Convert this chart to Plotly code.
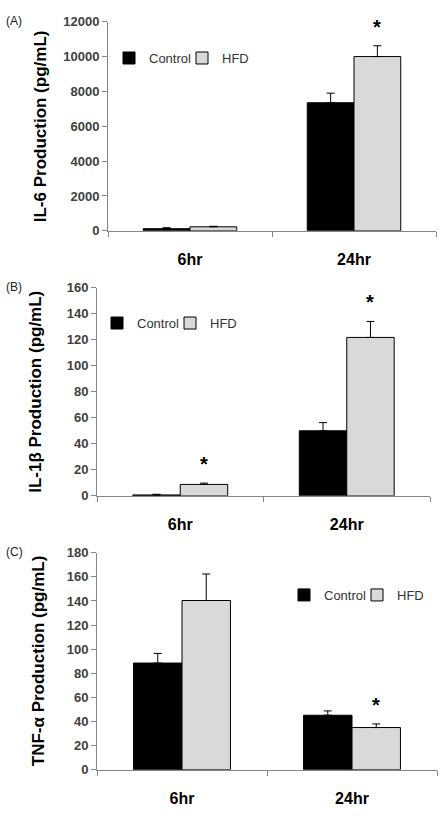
import plotly.graph_objects as go

categories = ["6hr", "24hr"]

il6_control = [120, 7350]
il6_control_err = [60, 550]
il6_hfd = [230, 10000]
il6_hfd_err = [30, 620]
il6_sig = [False, True]

il1b_control = [0.7, 50]
il1b_control_err = [0.5, 6.3]
il1b_hfd = [8.8, 121.8]
il1b_hfd_err = [1.0, 12.3]
il1b_sig = [True, True]

tnf_control = [88.5, 45.2]
tnf_control_err = [8, 3.6]
tnf_hfd = [140.4, 35.0]
tnf_hfd_err = [22, 3]
tnf_sig = [False, True]

panel_labels = ["(A)", "(B)", "(C)"]
y_titles = ["IL-6 Production (pg/mL)", "IL-1\u03b2 Production (pg/mL)", "TNF-\u03b1 Production (pg/mL)"]
y_ranges = [[0, 12000], [0, 160], [0, 180]]
y_dticks = [2000, 20, 20]

W, H = 443, 816
# plot areas in pixels: (x0, x1, ytop, ybottom)
areas = [(108, 436, 15, 228), (97, 430, 286, 498), (97, 437, 556, 777)]
legend_pos = [(109, 52), (97, 322), (284, 599)]
title_x = [40, 36, 38]

BARGAP = 0.43
AXIS_GRAY = "#868686"
TEXT_GRAY = "#404040"
FONT = "Liberation Sans"

panels = [
    (il6_control, il6_control_err, il6_hfd, il6_hfd_err, il6_sig),
    (il1b_control, il1b_control_err, il1b_hfd, il1b_hfd_err, il1b_sig),
    (tnf_control, tnf_control_err, tnf_hfd, tnf_hfd_err, tnf_sig),
]

fig = go.Figure()
layout = dict(
    width=W, height=H, margin=dict(l=0, r=0, t=0, b=0),
    paper_bgcolor="white", plot_bgcolor="white",
    barmode="group", bargap=BARGAP, bargroupgap=0,
    font=dict(family=FONT, color="black"),
    annotations=[],
)

for i, (c, ce, h, he, sig) in enumerate(panels):
    n = i + 1
    xa = "x" if n == 1 else f"x{n}"
    ya = "y" if n == 1 else f"y{n}"
    lg = "legend" if n == 1 else f"legend{n}"
    x0, x1, yt, yb = areas[i]
    fig.add_trace(go.Bar(
        x=categories, y=c, name="Control", xaxis=xa, yaxis=ya, legend=lg,
        marker=dict(color="black", line=dict(color="black", width=1)),
        error_y=dict(type="data", array=ce, arrayminus=[0] * len(ce), symmetric=False,
                     color="black", thickness=1, width=4),
    ))
    fig.add_trace(go.Bar(
        x=categories, y=h, name="HFD", xaxis=xa, yaxis=ya, legend=lg,
        marker=dict(color="#d9d9d9", line=dict(color="black", width=1)),
        error_y=dict(type="data", array=he, arrayminus=[0] * len(he), symmetric=False,
                     color="black", thickness=1, width=4),
    ))
    layout["xaxis" if n == 1 else f"xaxis{n}"] = dict(
        domain=[x0 / W, x1 / W], anchor=ya, type="category",
        showline=True, linecolor=AXIS_GRAY, linewidth=1,
        ticks="outside", tickson="boundaries", ticklen=5, tickcolor=AXIS_GRAY,
        tickfont=dict(size=16, color="black", weight="bold", family=FONT),
        ticklabelstandoff=14, showgrid=False, zeroline=False, fixedrange=True,
    )
    layout["yaxis" if n == 1 else f"yaxis{n}"] = dict(
        domain=[1 - yb / H, 1 - yt / H], anchor=xa,
        range=y_ranges[i], dtick=y_dticks[i], tick0=0, tickformat="d",
        showline=True, linecolor=AXIS_GRAY, linewidth=1,
        ticks="outside", ticklen=5, tickcolor=AXIS_GRAY,
        tickfont=dict(size=13, color=TEXT_GRAY, weight="bold", family=FONT),
        showgrid=False, zeroline=False, fixedrange=True,
    )
    lx, ly = legend_pos[i]
    layout[lg] = dict(
        x=lx / W, y=1 - ly / H, xanchor="left", yanchor="middle",
        orientation="h", bgcolor="rgba(0,0,0,0)",
        font=dict(size=13, color="#333333", family=FONT),
        itemwidth=30, entrywidth=28, tracegroupgap=0, traceorder="normal",
    )
    # panel label
    layout["annotations"].append(dict(
        text=panel_labels[i], x=4 / W, y=1 - (yt - 1) / H, xref="paper", yref="paper",
        xanchor="left", yanchor="middle", showarrow=False,
        font=dict(size=12, color="#222222", family=FONT),
    ))
    # y title
    layout["annotations"].append(dict(
        text=y_titles[i], x=title_x[i] / W, y=1 - ((yt + yb) / 2) / H,
        xref="paper", yref="paper", textangle=-90, showarrow=False,
        xanchor="center", yanchor="middle",
        font=dict(size=17, color="black", weight="bold", family=FONT),
    ))
    # significance stars above HFD bars
    cat_px = (x1 - x0) / len(categories)
    hfd_shift = cat_px * (1 - BARGAP) / 4
    for k, cat in enumerate(categories):
        if sig[k]:
            layout["annotations"].append(dict(
                text="*", x=cat, y=h[k] + he[k], xref=xa, yref=ya,
                xshift=hfd_shift, yshift=6, xanchor="center", yanchor="bottom",
                showarrow=False,
                font=dict(size=20, color="black", weight="bold", family=FONT),
            ))

fig.update_layout(**layout)
fig.write_html("out.html", config={"displayModeBar": False},
               post_script="document.body.style.margin='0';")
